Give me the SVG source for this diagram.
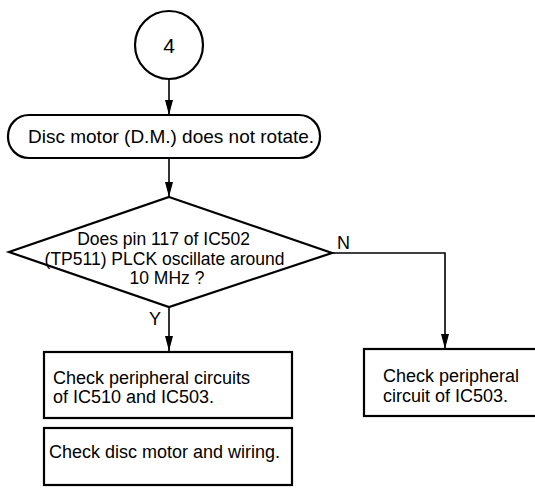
<svg xmlns="http://www.w3.org/2000/svg" width="535" height="497" viewBox="0 0 535 497">
<defs>
<style>
.shape{fill:#fff;stroke:#000;stroke-width:2.2}
.conn{fill:none;stroke:#000;stroke-width:1.6}
text{font-family:"Liberation Sans",Arial,Helvetica,sans-serif;fill:#000}
.t{font-size:18px}
.d{font-size:17.5px}
</style>
<marker id="ah" markerUnits="userSpaceOnUse" markerWidth="10" markerHeight="16" refX="4" refY="15" orient="auto-start-reverse" viewBox="0 0 8 16">
<path d="M0,0 L8,0 L4,15 Z" transform="rotate(0)" fill="#000"/>
</marker>
<marker id="arr" markerUnits="userSpaceOnUse" markerWidth="16" markerHeight="10" refX="15" refY="4" orient="auto" viewBox="0 0 16 8">
<path d="M0,0 L15,4 L0,8 Z" fill="#000"/>
</marker>
</defs>
<rect width="535" height="497" fill="#fff"/>
<g id="connectors">
<line class="conn" x1="169" y1="79" x2="169" y2="115" marker-end="url(#arr)"/>
<line class="conn" x1="169" y1="158" x2="169" y2="197" marker-end="url(#arr)"/>
<line class="conn" x1="169" y1="307" x2="169" y2="351" marker-end="url(#arr)"/>
<polyline class="conn" points="332,253 445,253 445,349" marker-end="url(#arr)"/>
<text x="149" y="325" class="t" font-size="18">Y</text>
<text x="337" y="249" class="t" font-size="17">N</text>
</g>
<g id="start">
<circle class="shape" cx="169" cy="45" r="34"/>
<text x="169" y="53" font-size="21" text-anchor="middle">4</text>
</g>
<g id="problem">
<rect class="shape" x="8" y="115" width="312" height="43" rx="21" ry="21"/>
<text x="28" y="143" font-size="19">Disc motor (D.M.) does not rotate.</text>
</g>
<g id="decision">
<polygon class="shape" points="169,197 332,253 169,307 9,252"/>
<text class="d" text-anchor="middle">
<tspan x="166" y="245">Does pin 117 of IC502</tspan>
<tspan x="167" y="264.5">(TP511) PLCK oscillate around</tspan>
<tspan x="167" y="284">10 MHz ?</tspan>
</text>
</g>
<g id="check-ic510-ic503">
<rect class="shape" x="44" y="352" width="248" height="66"/>
<text class="t"><tspan x="53" y="384">Check peripheral circuits</tspan><tspan x="53" y="403">of IC510 and IC503.</tspan></text>
</g>
<g id="check-motor">
<rect class="shape" x="44" y="428" width="248" height="57"/>
<text class="t" x="49" y="458">Check disc motor and wiring.</text>
</g>
<g id="check-ic503">
<rect class="shape" x="364" y="349" width="180" height="67"/>
<text class="t"><tspan x="383" y="382">Check peripheral</tspan><tspan x="383" y="402">circuit of IC503.</tspan></text>
</g>
</svg>
